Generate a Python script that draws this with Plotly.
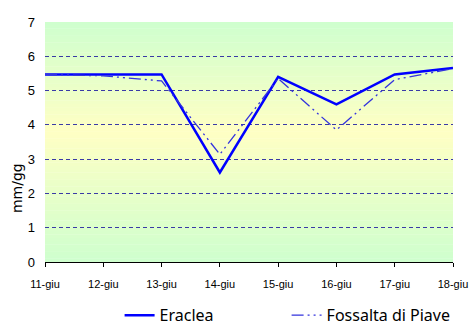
import plotly.graph_objects as go

# Daily values (mm/gg), 11-18 June
giorni = ["11-giu", "12-giu", "13-giu", "14-giu", "15-giu", "16-giu", "17-giu", "18-giu"]
eraclea = [5.47, 5.47, 5.47, 2.61, 5.40, 4.60, 5.47, 5.66]
fossalta = [5.47, 5.43, 5.28, 3.14, 5.35, 3.85, 5.32, 5.64]
y_ticks = [0, 1, 2, 3, 4, 5, 6, 7]

fig = go.Figure()

# vertical green-yellow-green gradient behind the plot area
def mix(c1, c2, t):
    return "rgb(%d,%d,%d)" % tuple(round(a + (b - a) * t) for a, b in zip(c1, c2))

green = (206, 255, 206)
yellow = (255, 255, 196)
mid = 3.8
n = 70
shapes = []
for i in range(n):
    y0 = 7 * i / n
    y1 = 7 * (i + 1) / n
    yc = (y0 + y1) / 2
    t = yc / mid if yc <= mid else (7 - yc) / (7 - mid)
    shapes.append(dict(type="rect", xref="x", yref="y", x0=0, x1=7, y0=y0, y1=y1 + 0.01,
                       fillcolor=mix(green, yellow, t), line=dict(width=0), layer="below"))

fig.add_trace(go.Scatter(x=list(range(len(giorni))), y=eraclea, mode="lines", name="Eraclea",
                         line=dict(color="#0000ff", width=2.5)))
fig.add_trace(go.Scatter(x=list(range(len(giorni))), y=fossalta, mode="lines", name="Fossalta di Piave",
                         line=dict(color="#3333dd", width=1.3, dash="12px,4px,2px,4px,2px,4px")))

fig.update_layout(
    width=469, height=325,
    margin=dict(l=45, r=16, t=22, b=63, autoexpand=False),
    paper_bgcolor="white", plot_bgcolor="white",
    shapes=shapes,
    showlegend=True,
    legend=dict(orientation="h", x=0.255, xref="container", xanchor="left",
                y=0.03, yref="container", yanchor="middle",
                font=dict(family="Noto Sans", size=16, color="black"),
                itemwidth=30, tracegroupgap=0, entrywidth=122),
    font=dict(family="Liberation Sans, Arial", size=11, color="black"),
)

fig.update_xaxes(
    range=[0, 7], tickmode="array", tickvals=list(range(len(giorni))), ticktext=giorni,
    showgrid=False, zeroline=False, showline=True, linecolor="black", linewidth=1,
    ticks="outside", ticklen=4, tickcolor="black", tickfont=dict(size=11),
    ticklabelstandoff=8, automargin=False,
)
fig.update_yaxes(
    range=[0, 7], tickmode="array", tickvals=y_ticks, ticktext=[str(v) for v in y_ticks],
    showgrid=True, gridcolor="#3a3aa6", griddash="4px,3px", gridwidth=1,
    zeroline=False, showline=False, ticks="", tickfont=dict(size=13), ticklabelstandoff=9,
    automargin=False,
)

fig.add_annotation(text="mm/gg", xref="paper", yref="paper", x=-0.07, y=0.31, textangle=-90,
                   showarrow=False, xanchor="center", yanchor="middle",
                   font=dict(family="DejaVu Sans", size=14, color="black"))

fig.write_html("out.html")
